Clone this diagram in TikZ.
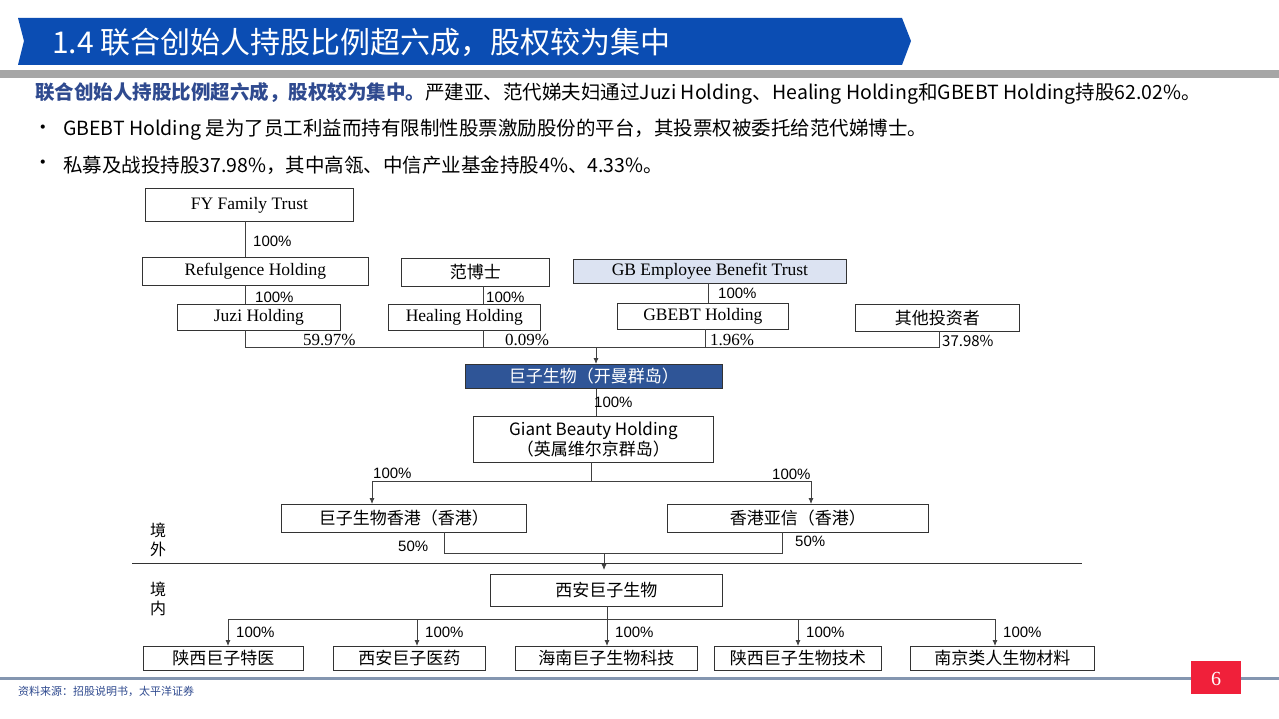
\documentclass[tikz,border=0pt]{standalone}
\usepackage{fontspec}
\setmainfont{Liberation Serif}
\newfontfamily\cjk{Noto Sans CJK SC}
\newfontfamily\pctfont{Liberation Sans}
\usetikzlibrary{arrows.meta}
\definecolor{bannerblue}{HTML}{0B4DB3}
\definecolor{navy}{HTML}{2F5597}
\definecolor{lightblue}{HTML}{DCE3F2}
\definecolor{boldblue}{HTML}{2F4A8F}
\definecolor{footgray}{HTML}{8496B0}
\definecolor{pagered}{HTML}{F0203A}
\tikzset{
  bx/.style={draw=black!80,line width=0.8pt,inner sep=0pt,anchor=north west},
  pct/.style={font=\pctfont\fontsize{15}{15}\selectfont,inner sep=0pt,anchor=west},
  ln/.style={draw=black!75,line width=0.8pt},
  ar/.style={ln,-{Latex[length=6pt,width=5pt]}},
  bt/.style={font=\fontsize{17.5}{17.5}\selectfont},
  ct/.style={font=\cjk\fontsize{17}{17}\selectfont},
}
\newcommand{\boxnode}[7]{% name, x1,y1,x2,y2, style, text
  \node[bx,#6,minimum width={#4-#2},minimum height={#5-#3}] (#1) at (#2,#3) {#7};}
\begin{document}
\begin{tikzpicture}[x=1pt,y=-1pt]
\useasboundingbox (0,0) rectangle (1279,719);
\fill[white] (0,0) rectangle (1279,719);
% banner
\fill[bannerblue] (18,18) -- (902,18) -- (911,41) -- (902,65) -- (18,65) -- (24,41) -- cycle;
\node[anchor=west,text=white,font=\cjk\fontsize{30}{30}\selectfont,inner sep=0pt] (title) at (52,42) {1.4 联合创始人持股比例超六成，股权较为集中};
\fill[black!35] (0,70) rectangle (1279,78);
% intro text
\tikzset{intro/.style={anchor=west,inner sep=0pt,font=\cjk\fontsize{19.5}{19.5}\selectfont}}
\node[intro] (t1) at (35,93) {\textcolor{boldblue}{\bfseries 联合创始人持股比例超六成，股权较为集中。}严建亚、范代娣夫妇通过Juzi Holding、Healing Holding和GBEBT Holding持股62.02\%。};
\node[intro] (b1) at (33,130) {•};
\node[intro] (t2) at (63,130) {GBEBT Holding 是为了员工利益而持有限制性股票激励股份的平台，其投票权被委托给范代娣博士。};
\node[intro] (b2) at (33,165) {•};
\node[intro] (t3) at (63,165) {私募及战投持股37.98\%，其中高瓴、中信产业基金持股4\%、4.33\%。};
% boxes
\boxnode{fy}{145}{188}{353}{221}{bt}{FY Family Trust}
\boxnode{ref}{142}{257}{368}{285}{bt}{Refulgence Holding}
\boxnode{fan}{401}{258}{549}{286}{ct}{范博士}
\boxnode{gbt}{573}{259}{846}{283}{bt,fill=lightblue}{GB Employee Benefit Trust}
\boxnode{juzi}{177}{304}{340}{330}{bt}{Juzi Holding}
\boxnode{heal}{388}{304}{540}{330}{bt}{Healing Holding}
\boxnode{gbebt}{617}{303}{788}{329}{bt}{GBEBT Holding}
\boxnode{oth}{855}{304}{1019}{331}{ct}{其他投资者}
\boxnode{cay}{465}{364}{722}{388}{ct,fill=navy,text=white}{巨子生物（开曼群岛）}
\boxnode{gbh}{473}{416}{713}{462}{font=\cjk\fontsize{17}{20}\selectfont,align=center}{Giant Beauty Holding\\（英属维尔京群岛）}
\boxnode{hk1}{281}{504}{526}{532}{ct}{巨子生物香港（香港）}
\boxnode{hk2}{667}{504}{928}{532}{ct}{香港亚信（香港）}
\boxnode{xa}{490}{574}{722}{606}{ct}{西安巨子生物}
\boxnode{c1}{143}{646}{303}{670}{ct}{陕西巨子特医}
\boxnode{c2}{333}{646}{485}{670}{ct}{西安巨子医药}
\boxnode{c3}{515}{646}{697}{670}{ct}{海南巨子生物科技}
\boxnode{c4}{714}{646}{881}{670}{ct}{陕西巨子生物技术}
\boxnode{c5}{910}{646}{1094}{670}{ct}{南京类人生物材料}
% upper connectors
\draw[ln] (245,221) -- (245,257);
\node[pct] (p1) at (253,241) {100\%};
\draw[ln] (245,285) -- (245,304);
\node[pct] (p2) at (255,297) {100\%};
\draw[ln] (483,286) -- (483,304);
\node[pct] (p3) at (486,297) {100\%};
\draw[ln] (708,283) -- (708,303);
\node[pct] (p4) at (718,293) {100\%};
\coordinate (bus) at (596,347);
\draw[ln] (245,330) -- (245,347) -- (939,347) -- (939,331);
\draw[ln] (483,330) -- (483,347);
\draw[ln] (705,329) -- (705,347);
\node[pct,font=\fontsize{17}{17}\selectfont] (q1) at (303,340) {59.97\%};
\node[pct,font=\fontsize{17}{17}\selectfont] (q2) at (505,340) {0.09\%};
\node[pct,font=\fontsize{17}{17}\selectfont] (q3) at (710,340) {1.96\%};
\node[pct,font=\cjk\fontsize{15}{15}\selectfont] (q4) at (942,341) {37.98\%};
\draw[ar] (bus) -- (cay.north -| bus);
\draw[ln] (cay.south -| bus) -- (gbh.north -| bus);
\node[pct] (p5) at (594,402) {100\%};
% to HK
\draw[ln] (591,462) -- (591,481);
\draw[ln] (372,481) -- (811,481);
\draw[ar] (372,481) -- (372,504);
\draw[ar] (811,481) -- (811,504);
\node[pct] (p6) at (373,473) {100\%};
\node[pct] (p7) at (772,474) {100\%};
% to Xian
\draw[ln] (444,532) -- (444,553) -- (782,553) -- (782,532);
\draw[ar] (604,553) -- (604,570);
\node[pct] (p8) at (398,546) {50\%};
\node[pct] (p9) at (795,541) {50\%};
\draw[black!80,line width=1pt] (132,563) -- (1082,563);
\node[font=\cjk\fontsize{16}{19}\selectfont,align=center,inner sep=0pt] (jw) at (158,540) {境\\外};
\node[font=\cjk\fontsize{16}{19}\selectfont,align=center,inner sep=0pt] (jn) at (158,599) {境\\内};
% subsidiaries
\draw[ln] (607,606) -- (607,619);
\draw[ln] (228,619) -- (995,619);
\foreach \xx/\nm in {228/c1,417/c2,607/c3,798/c4,995/c5}{
  \draw[ar] (\xx,619) -- (\xx,646);
  \node[pct] at (\xx+8,632) {100\%};
}
% footer
\fill[footgray] (0,677) rectangle (1279,680);
\fill[pagered] (1191,661) rectangle (1241,694);
\node[text=white,font=\fontsize{20}{20}\selectfont] (pg) at (1216,679) {6};
\node[anchor=west,inner sep=0pt,text=boldblue,font=\cjk\fontsize{11}{11}\selectfont\itshape] (src) at (18,691) {资料来源：招股说明书，太平洋证券};
\end{tikzpicture}
\end{document}
